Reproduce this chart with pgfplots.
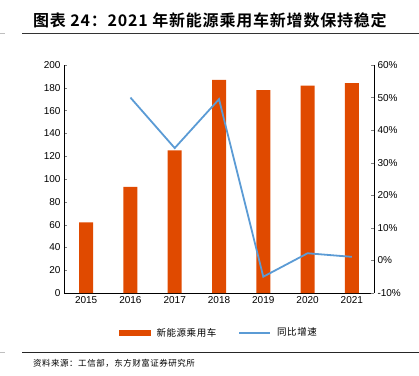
\documentclass[border=0pt]{standalone}
\usepackage{pgfplots}
\pgfplotsset{compat=1.18}
\usepackage{fontspec}
\setmainfont{Liberation Sans}
\newfontfamily\cjk{Noto Sans CJK SC}[LetterSpace=6]
\newfontfamily\cjkb{Noto Sans CJK SC Bold}[LetterSpace=5]
\definecolor{barc}{HTML}{E04A00}
\definecolor{linec}{HTML}{5B9BD5}
\begin{document}
\begin{tikzpicture}
\path[use as bounding box] (0pt,0pt) rectangle (419pt,375pt);
% title
\node[anchor=west,inner sep=0pt,font=\cjkb\fontsize{16}{17}\selectfont] at (33pt,355pt) {图表 24：2021 年新能源乘用车新增数保持稳定};
\draw[line width=0.8pt, black!80] (22pt,342pt) -- (419pt,342pt);
\draw[line width=0.8pt, black!25] (0pt,342pt) -- (5pt,342pt);
% source
\draw[line width=0.8pt, black!85] (22pt,23pt) -- (419pt,23pt);
\draw[line width=0.8pt, black!25] (0pt,23pt) -- (5pt,23pt);
\node[anchor=west,inner sep=0pt,font=\cjk\fontsize{8.5}{9}\selectfont] at (33pt,12pt) {资料来源：工信部，东方财富证券研究所};
\begin{axis}[
  at={(64pt,82pt)}, anchor=south west,
  scale only axis, width=310pt, height=228pt,
  xmin=-0.5, xmax=6.5, ymin=0, ymax=200,
  ytick={0,20,...,200},
  xtick={0,...,6},
  xticklabels={2015,2016,2017,2018,2019,2020,2021},
  axis x line*=bottom, axis y line*=left,
  x axis line style={-}, y axis line style={-},
  tick align=inside, major tick length=3pt,
  xtick style={draw=none},
  tick label style={font=\fontsize{10}{11}\selectfont},
  /pgf/number format/assume math mode=true,
]
\addplot[ybar, bar width=14pt, fill=barc, draw=none] coordinates {
(0,62) (1,93) (2,125) (3,187) (4,178) (5,182) (6,184)};
\end{axis}
\begin{axis}[
  at={(64pt,82pt)}, anchor=south west,
  scale only axis, width=310pt, height=228pt,
  xmin=-0.5, xmax=6.5, ymin=-10, ymax=60,
  ytick={-10,0,...,60},
  yticklabel={\pgfmathprintnumber{\tick}\%},
  axis y line*=right, axis x line=none,
  y axis line style={-},
  tick align=inside, major tick length=3pt,
  tick label style={font=\fontsize{10}{11}\selectfont},
  /pgf/number format/assume math mode=true,
  legend style={at={(0.5,-0.135)}, anchor=north, draw=none, fill=none,
    font=\cjk\fontsize{9.5}{10}\selectfont, legend columns=2,
    /tikz/every odd column/.append style={column sep=4pt},
    /tikz/every even column/.append style={column sep=20pt}},
  legend cell align=left,
]
\addlegendimage{legend image code/.code={\fill[barc] (0pt,-2.5pt) rectangle (31pt,2.5pt);}}
\addlegendentry{新能源乘用车}
\addplot[linec, line width=1.8pt, mark=none,
  legend image code/.code={\draw[linec,line width=1.8pt] (0pt,0pt) -- (31pt,0pt);}]
  coordinates {(1,50) (2,34.5) (3,49.5) (4,-5) (5,2.2) (6,1.1)};
\addlegendentry{同比增速}
\end{axis}
\end{tikzpicture}
\end{document}
